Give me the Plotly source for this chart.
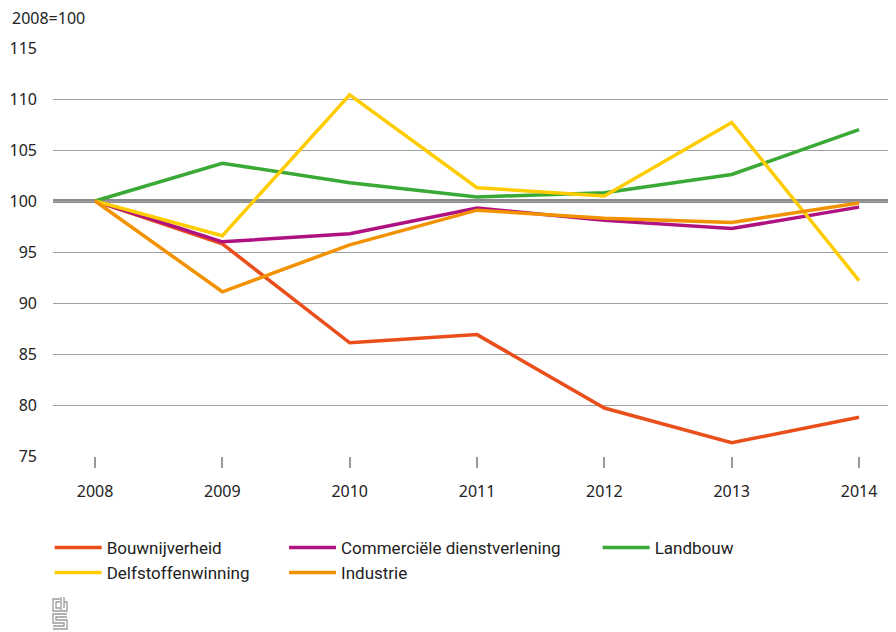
import plotly.graph_objects as go

# Jaren en indexcijfers (2008=100)
jaren = ["2008", "2009", "2010", "2011", "2012", "2013", "2014"]
bouwnijverheid = [100, 95.8, 86.1, 86.9, 79.7, 76.3, 78.8]
commercieel = [100, 96.0, 96.8, 99.3, 98.1, 97.3, 99.4]
landbouw = [100, 103.7, 101.8, 100.4, 100.8, 102.6, 107.0]
delfstoffen = [100, 96.6, 110.4, 101.3, 100.5, 107.7, 92.2]
industrie = [100, 91.1, 95.7, 99.1, 98.3, 97.9, 99.8]

y_ticks = [75, 80, 85, 90, 95, 100, 105, 110, 115]

x = list(range(len(jaren)))

reeksen = [
    ("Bouwnijverheid", bouwnijverheid, "#e94e1b", "legend", 1),
    ("Commerciële dienstverlening", commercieel, "#af1280", "legend2", 1),
    ("Landbouw", landbouw, "#3aa935", "legend3", 1),
    ("Delfstoffenwinning", delfstoffen, "#ffcc00", "legend", 2),
    ("Industrie", industrie, "#f39200", "legend2", 2),
]

fig = go.Figure()

for naam, waarden, kleur, leg, rank in reeksen:
    fig.add_trace(go.Scatter(
        x=x, y=waarden, name=naam, mode="lines",
        line=dict(color=kleur, width=3.5),
        legend=leg, legendrank=rank,
    ))

# dikke lijn op 100
fig.add_hline(y=100, line_color="#8c8c8c", line_width=4, layer="below")

legend_style = dict(
    orientation="v", yanchor="top", y=-0.181, xanchor="left",
    font=dict(family="Liberation Sans Narrow, Roboto, sans-serif", size=17, color="#222"),
    bgcolor="rgba(0,0,0,0)", tracegroupgap=0, itemwidth=47,
)

fig.update_layout(
    width=896, height=632,
    margin=dict(l=45, r=0, t=40, b=184),
    plot_bgcolor="white", paper_bgcolor="white",
    font=dict(family="Noto Sans, sans-serif", size=16, color="#222"),
    showlegend=True,
    legend=dict(legend_style, x=-0.0039),
    legend2=dict(legend_style, x=0.2715),
    legend3=dict(legend_style, x=0.640),
    xaxis=dict(
        range=[-0.33, 6.353], tickvals=x, ticktext=jaren,
        showgrid=False, zeroline=False, showline=False,
        ticks="outside", ticklen=11, tickcolor="#999", tickwidth=1.5,
        ticklabelstandoff=10,
    ),
    yaxis=dict(
        range=[75, 115], tickvals=y_ticks,
        showgrid=True, gridcolor="#a0a0a0", gridwidth=1.2,
        zeroline=False, showline=False, ticks="",
        ticklabelstandoff=15,
    ),
    annotations=[dict(
        text="2008=100", xref="paper", yref="paper", x=-0.0505, y=1.0735,
        xanchor="left", yanchor="middle", showarrow=False,
        font=dict(family="Noto Sans, sans-serif", size=16, color="#222"),
    )],
)


# CBS-logo (vereenvoudigd), getekend in vensterpixels
def pad(punten):
    delen = []
    for i, (wx, wy) in enumerate(punten):
        px = (wx - 8 - 45) / 851
        py = (448 - (wy - 8)) / 408
        delen.append(("M" if i == 0 else "L") + f"{px:.5f},{py:.5f}")
    return " ".join(delen)


logo = [
    [(60, 599), (53, 599), (53, 611), (60, 611)],
    [(60, 602), (56, 602), (56, 608), (60, 608)],
    [(61, 597), (61, 611), (67, 611), (67, 602), (64, 602)],
    [(64, 597), (64, 608)],
    [(67, 614), (53, 614), (53, 623), (64, 623), (64, 626), (53, 626)],
    [(67, 617), (56, 617), (56, 620), (67, 620), (67, 629), (53, 629)],
]
for punten in logo:
    fig.add_shape(type="path", xref="paper", yref="paper", path=pad(punten),
                  line=dict(color="#9a9a9a", width=1.3))

fig.write_html("out.html")
